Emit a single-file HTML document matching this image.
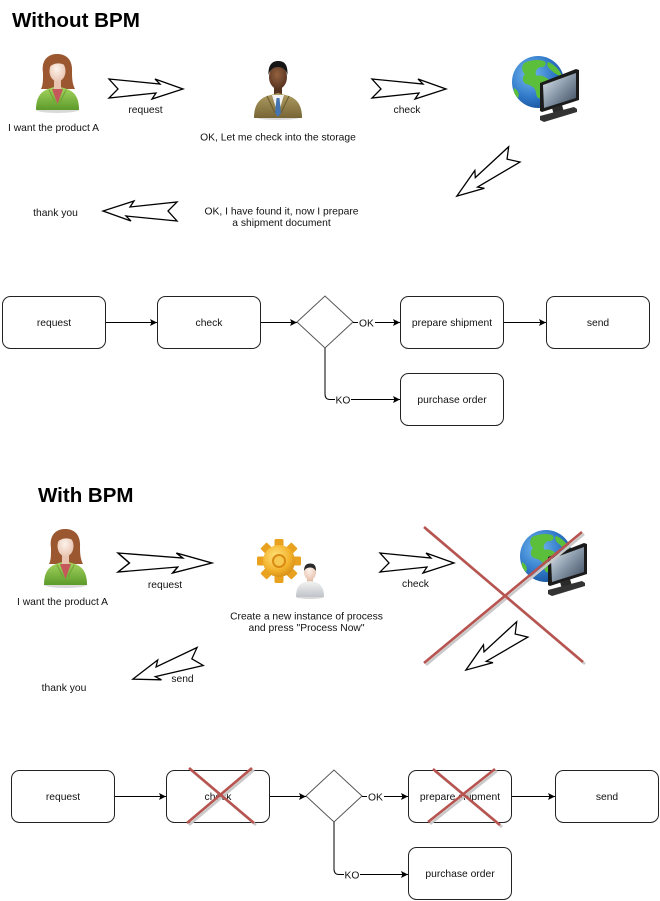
<!DOCTYPE html>
<html><head><meta charset="utf-8"><style>
html,body{margin:0;padding:0;background:#fff;}
svg{display:block;}
text{font-family:"Liberation Sans",Arial,sans-serif;fill:#111;}
</style></head><body>
<svg width="660" height="901" viewBox="0 0 660 901" xmlns="http://www.w3.org/2000/svg">
<defs>
<linearGradient id="gJ" x1="0" y1="0" x2="0" y2="1"><stop offset="0" stop-color="#a9d862"/><stop offset="1" stop-color="#5c9a2a"/></linearGradient>
<radialGradient id="gF" cx="0.45" cy="0.4" r="0.7"><stop offset="0" stop-color="#fdf3ec"/><stop offset="1" stop-color="#e6bea9"/></radialGradient>
<radialGradient id="gD" cx="0.45" cy="0.4" r="0.7"><stop offset="0" stop-color="#94613f"/><stop offset="1" stop-color="#4e2d1c"/></radialGradient>
<linearGradient id="gS" x1="0" y1="0" x2="0" y2="1"><stop offset="0" stop-color="#b09d63"/><stop offset="1" stop-color="#776536"/></linearGradient>
<radialGradient id="gG" cx="0.35" cy="0.35" r="0.75"><stop offset="0" stop-color="#74b9f0"/><stop offset="0.6" stop-color="#2f78c8"/><stop offset="1" stop-color="#174d95"/></radialGradient>
<linearGradient id="gM" x1="0" y1="0" x2="1" y2="1"><stop offset="0" stop-color="#e4ebf2"/><stop offset="0.5" stop-color="#8797a8"/><stop offset="1" stop-color="#39475a"/></linearGradient>
<radialGradient id="gC" cx="0.4" cy="0.35" r="0.75"><stop offset="0" stop-color="#ffe27a"/><stop offset="0.6" stop-color="#f3b22c"/><stop offset="1" stop-color="#cf8410"/></radialGradient>
<linearGradient id="gW" x1="0" y1="0" x2="0" y2="1"><stop offset="0" stop-color="#f4f4f4"/><stop offset="1" stop-color="#bfc3c8"/></linearGradient>
<marker id="ah" viewBox="0 0 10 10" refX="10" refY="5" markerWidth="7" markerHeight="7" orient="auto" markerUnits="userSpaceOnUse"><path d="M0,0 L10,5 L0,10 L2,5 Z" fill="#000"/></marker>

<g id="woman">
<ellipse cx="22.5" cy="57" rx="21" ry="3" fill="#000" opacity=".15"/>
<path d="M8,20 C6,6 14,1 22,1 C31,1 38,6 37,20 C37,28 38,32 40,36 L6,36 C8,32 8,28 8,20Z" fill="#9a5730"/>
<path d="M1,57 C1,45 5,39 13,36 L22,33 L32,36 C40,39 44,45 44,57 Z" fill="url(#gJ)"/>
<path d="M17,36 L22.5,51 L28,36 Z" fill="#c4585a"/>
<path d="M14,37 L20,49 M31,37 L25,49" stroke="#6f9f36" stroke-width="1" fill="none"/>
<rect x="19" y="26" width="7" height="10" fill="#e7c3b0"/>
<ellipse cx="22.5" cy="18" rx="8" ry="10.5" fill="url(#gF)"/>
<path d="M13,17 C13,7 18,4 24,4 C30,4 33,8 33,15 C29,10 22,9 17,12 C15,13 14,15 13,17Z" fill="#9a5730"/>
</g>

<g id="globe">
<circle cx="0" cy="0" r="26" fill="url(#gG)"/>
<path d="M-14,-19 C-8,-22 0,-23 6,-21 C10,-18 6,-14 2,-15 C-2,-13 -4,-9 -1,-6 C4,-8 8,-4 12,-2 C14,4 10,10 6,14 C2,19 -2,16 -2,10 C-3,5 -8,3 -12,2 C-16,0 -16,-5 -13,-8 C-16,-10 -17,-15 -14,-19Z" fill="#5cbf3b"/>
<path d="M10,-20 C16,-18 22,-12 24,-6 C20,-6 16,-9 13,-12 C10,-14 8,-18 10,-20Z" fill="#5cbf3b"/>
<path d="M-24,6 C-20,8 -18,12 -20,16 C-23,13 -25,10 -24,6Z" fill="#5cbf3b"/>
<g transform="translate(2,-12)">
<path d="M0,13 L36,-1 L39,0 L39,30 L2,42 L0,41 Z" fill="#1b1b1b"/>
<path d="M3,15 L36,3 L36,28 L4,38 Z" fill="url(#gM)"/>
<path d="M12,38 L22,35 L24,42 L14,45 Z" fill="#2a2a2a"/>
<path d="M0,46 L34,37 L37,39 L37,42 L4,52 L0,50 Z" fill="#333"/>
</g>
</g>

<path id="blk" d="M0,-10 L51,-5 L46,-10 L74,0 L43,10 L47,4 L0,9 L9,0 Z"/>
</defs>

<!-- ===== Section 1 ===== -->
<text x="12" y="27" font-size="20.6" font-weight="bold" style="fill:#000">Without BPM</text>

<use href="#woman" x="35" y="53"/>
<text x="53.5" y="131" font-size="10.3" text-anchor="middle">I want the product A</text>

<g fill="#fff" stroke="#000" stroke-width="1.3" stroke-linejoin="miter">
<use href="#blk" transform="translate(109,89)"/>
<use href="#blk" transform="translate(372,89)"/>
<use href="#blk" transform="translate(514,154) rotate(143.6) scale(0.96,1)"/>
<use href="#blk" transform="translate(177,211) rotate(180)"/>
</g>
<text x="145.5" y="113" font-size="10.3" text-anchor="middle">request</text>
<text x="407" y="113" font-size="10.3" text-anchor="middle">check</text>

<!-- man -->
<g transform="translate(253,57)">
<ellipse cx="25" cy="60" rx="23" ry="3" fill="#000" opacity=".15"/>
<rect x="21" y="28" width="8" height="11" fill="#55331f"/>
<path d="M1,61 C1,48 6,42 14,39 L25,36 L36,39 C44,42 49,48 49,61 Z" fill="url(#gS)"/>
<path d="M19,38 L25,58 L31,38 Z" fill="#f2f2f2"/>
<path d="M14,39 L22,56 M36,39 L28,56" stroke="#6b5a2e" stroke-width="1" fill="none"/>
<path d="M23.5,41 L26.5,41 L28,56 L25,60 L22,56 Z" fill="#4475b0"/>
<ellipse cx="25" cy="20" rx="9" ry="12" fill="url(#gD)"/>
<path d="M15.5,18 C15,7 20,4 25,4 C31,4 35,7 34.5,18 C33,12 29,10 25,10 C21,10 17,12 15.5,18Z" fill="#161616"/>
</g>
<text x="278" y="140.5" font-size="10.3" text-anchor="middle">OK, Let me check into the storage</text>

<use href="#globe" transform="translate(538,82)"/>

<text x="55.5" y="216" font-size="10.3" text-anchor="middle">thank you</text>
<text x="281.5" y="214.5" font-size="10.3" text-anchor="middle">OK, I have found it, now I prepare</text>
<text x="281.5" y="226" font-size="10.3" text-anchor="middle">a shipment document</text>

<!-- flow 1 -->
<g fill="#fff" stroke="#222" stroke-width="1">
<rect x="2.5" y="296.5" width="103" height="52" rx="8"/>
<rect x="157.5" y="296.5" width="103" height="52" rx="8"/>
<rect x="400.5" y="296.5" width="103" height="52" rx="8"/>
<rect x="546.5" y="296.5" width="103" height="52" rx="8"/>
<rect x="400.5" y="373.5" width="103" height="52" rx="8"/>
</g>
<path d="M297,322 L325,296 L353,322 L325,348 Z" fill="#fff" stroke="#555" stroke-width="1"/>
<g stroke="#000" stroke-width="1" fill="none">
<line x1="106" y1="322.5" x2="157" y2="322.5" marker-end="url(#ah)"/>
<line x1="261" y1="322.5" x2="297" y2="322.5" marker-end="url(#ah)"/>
<line x1="353" y1="322.5" x2="400" y2="322.5" marker-end="url(#ah)"/>
<line x1="504" y1="322.5" x2="546" y2="322.5" marker-end="url(#ah)"/>
<path d="M325,348 L325,394 Q325,399.5 330,399.5 L400,399.5" marker-end="url(#ah)"/>
</g>
<rect x="358" y="316" width="17" height="13" fill="#fff"/>
<text x="366.5" y="326.5" font-size="10.3" text-anchor="middle">OK</text>
<rect x="335" y="393" width="16" height="13" fill="#fff"/>
<text x="343" y="403.5" font-size="10.3" text-anchor="middle">KO</text>
<g font-size="10.3" text-anchor="middle">
<text x="54" y="326">request</text>
<text x="209" y="326">check</text>
<text x="452" y="326">prepare shipment</text>
<text x="598" y="326">send</text>
<text x="452" y="403">purchase order</text>
</g>

<!-- ===== Section 2 ===== -->
<text x="38" y="502" font-size="20.5" font-weight="bold" style="fill:#000">With BPM</text>
<use href="#woman" x="43" y="528"/>
<text x="62.5" y="605" font-size="10.3" text-anchor="middle">I want the product A</text>

<g fill="#fff" stroke="#000" stroke-width="1.3" stroke-linejoin="miter">
<use href="#blk" transform="translate(118,563) scale(1.27,1)" vector-effect="non-scaling-stroke"/>
<use href="#blk" transform="translate(380,563)"/>
<use href="#blk" transform="translate(522,629) rotate(143.8) scale(0.94,1)"/>
<use href="#blk" transform="translate(200,656) rotate(161) scale(0.96,1)"/>
</g>
<text x="165" y="588" font-size="10.3" text-anchor="middle">request</text>
<text x="415.5" y="587" font-size="10.3" text-anchor="middle">check</text>

<!-- gear + person -->
<g transform="translate(279,561)">
<g fill="#e9a21f">
<rect x="-4.5" y="-22" width="9" height="10" rx="1.5"/>
<rect x="-4.5" y="-22" width="9" height="10" rx="1.5" transform="rotate(45)"/>
<rect x="-4.5" y="-22" width="9" height="10" rx="1.5" transform="rotate(90)"/>
<rect x="-4.5" y="-22" width="9" height="10" rx="1.5" transform="rotate(135)"/>
<rect x="-4.5" y="-22" width="9" height="10" rx="1.5" transform="rotate(180)"/>
<rect x="-4.5" y="-22" width="9" height="10" rx="1.5" transform="rotate(225)"/>
<rect x="-4.5" y="-22" width="9" height="10" rx="1.5" transform="rotate(270)"/>
<rect x="-4.5" y="-22" width="9" height="10" rx="1.5" transform="rotate(315)"/>
</g>
<circle r="16" fill="url(#gC)"/>
<circle r="7" fill="#d98b14"/>
<circle r="5" fill="#f7c950"/>
</g>
<g transform="translate(295,562)">
<ellipse cx="15" cy="35" rx="14" ry="2" fill="#000" opacity=".15"/>
<rect x="12" y="14" width="6" height="7" fill="#e0bfa9"/>
<path d="M1,35 C1,26 4,22 10,20 L15,19 L20,20 C26,22 29,26 29,35 Z" fill="url(#gW)"/>
<ellipse cx="15" cy="10" rx="6" ry="8" fill="url(#gF)"/>
<path d="M9,9 C9,3 12,1.5 15,1.5 C19,1.5 21,3 21,9 C19,6 17,5.5 15,5.5 C12,5.5 10,7 9,9Z" fill="#2a2a2a"/>
</g>
<text x="306.5" y="619.5" font-size="10.3" text-anchor="middle">Create a new instance of process</text>
<text x="306.5" y="631" font-size="10.3" text-anchor="middle">and press "Process Now"</text>

<use href="#globe" transform="translate(546,556)"/>

<!-- big red X -->
<g stroke-width="2.6" fill="none" stroke-linecap="butt">
<line x1="426" y1="529" x2="585" y2="664" stroke="#c9c9c9"/>
<line x1="584" y1="534" x2="426" y2="665" stroke="#c9c9c9"/>
<line x1="424" y1="527" x2="583" y2="662" stroke="#b85450"/>
<line x1="582" y1="532" x2="424" y2="663" stroke="#b85450"/>
</g>

<text x="182.5" y="682" font-size="10.3" text-anchor="middle">send</text>
<text x="64" y="691" font-size="10.3" text-anchor="middle">thank you</text>

<!-- flow 2 -->
<g fill="#fff" stroke="#222" stroke-width="1">
<rect x="11.5" y="770.5" width="103" height="52" rx="8"/>
<rect x="166.5" y="770.5" width="103" height="52" rx="8"/>
<rect x="408.5" y="770.5" width="103" height="52" rx="8"/>
<rect x="555.5" y="770.5" width="103" height="52" rx="8"/>
<rect x="408.5" y="847.5" width="103" height="52" rx="8"/>
</g>
<path d="M306,796 L334,770 L362,796 L334,822 Z" fill="#fff" stroke="#555" stroke-width="1"/>
<g stroke="#000" stroke-width="1" fill="none">
<line x1="115" y1="796.5" x2="166" y2="796.5" marker-end="url(#ah)"/>
<line x1="270" y1="796.5" x2="306" y2="796.5" marker-end="url(#ah)"/>
<line x1="362" y1="796.5" x2="408" y2="796.5" marker-end="url(#ah)"/>
<line x1="512" y1="796.5" x2="555" y2="796.5" marker-end="url(#ah)"/>
<path d="M334,822 L334,869 Q334,874.5 339,874.5 L408,874.5" marker-end="url(#ah)"/>
</g>
<rect x="367" y="790" width="17" height="13" fill="#fff"/>
<text x="375.5" y="800.5" font-size="10.3" text-anchor="middle">OK</text>
<rect x="344" y="868" width="16" height="13" fill="#fff"/>
<text x="352" y="878.5" font-size="10.3" text-anchor="middle">KO</text>
<g font-size="10.3" text-anchor="middle">
<text x="63" y="800">request</text>
<text x="218" y="800">check</text>
<text x="460" y="800">prepare shipment</text>
<text x="607" y="800">send</text>
<text x="460" y="877">purchase order</text>
</g>

<!-- small red X's -->
<g stroke-width="2.6" fill="none">
<line x1="191" y1="770" x2="256" y2="825" stroke="#c9c9c9"/>
<line x1="254" y1="770" x2="189" y2="825" stroke="#c9c9c9"/>
<line x1="189" y1="768" x2="254" y2="823" stroke="#b85450"/>
<line x1="252" y1="768" x2="187" y2="823" stroke="#b85450"/>
<line x1="435" y1="771" x2="502" y2="827" stroke="#c9c9c9"/>
<line x1="497" y1="771" x2="430" y2="824" stroke="#c9c9c9"/>
<line x1="433" y1="769" x2="500" y2="825" stroke="#b85450"/>
<line x1="495" y1="769" x2="428" y2="822" stroke="#b85450"/>
</g>
</svg>
</body></html>
